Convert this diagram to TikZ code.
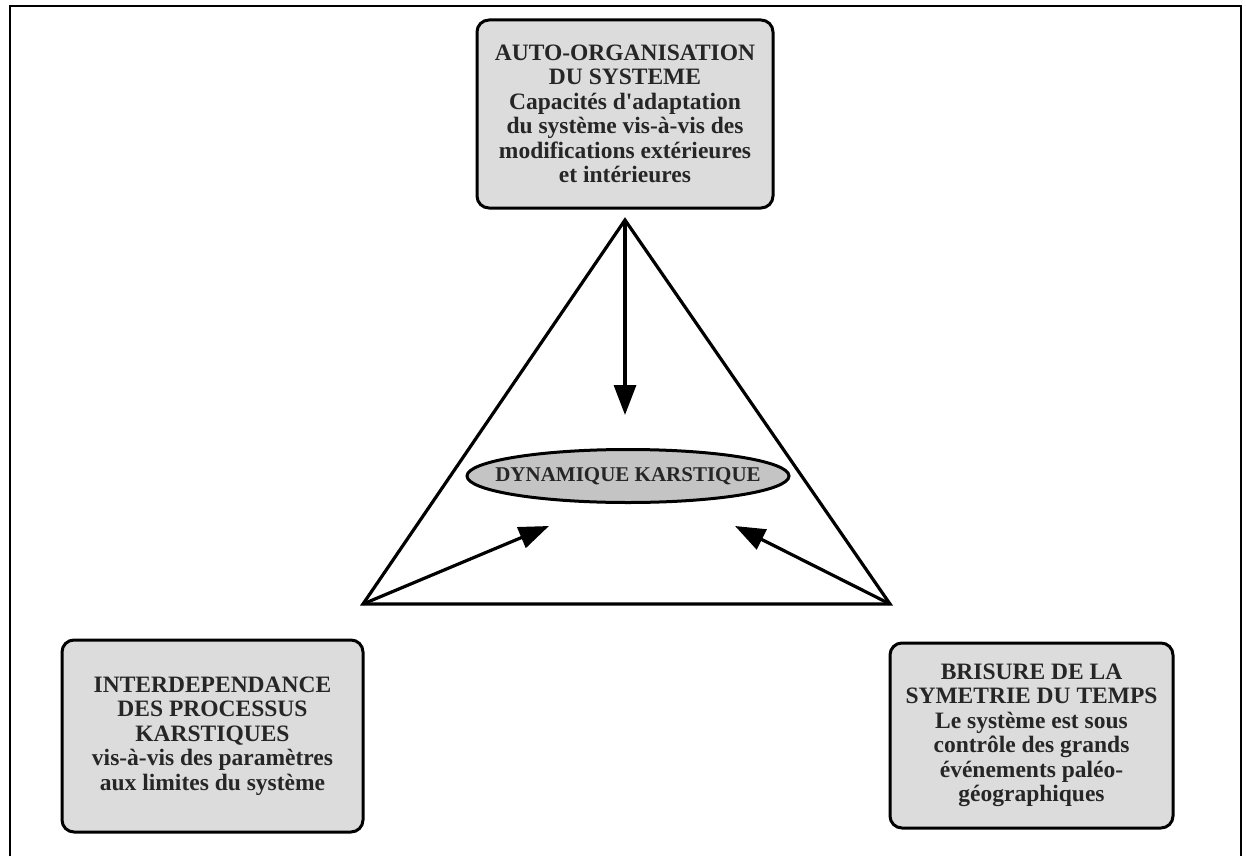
\documentclass[tikz,border=0pt]{standalone}
\usepackage{fontspec}
\setmainfont{Liberation Serif}
\usetikzlibrary{arrows.meta,shapes.geometric}
\definecolor{boxfill}{HTML}{DCDCDC}
\definecolor{ellfill}{HTML}{C4C4C4}
\definecolor{txt}{HTML}{262626}
\tikzset{
  infobox/.style={draw=black, line width=3pt, rounded corners=12pt, fill=boxfill,
    align=center, text=txt, font=\bfseries\fontsize{23.5}{24.5}\selectfont, inner sep=0pt},
  tri/.style={draw=black, line width=3.2pt, line join=miter},
  arr/.style={draw=black, line width=3.2pt, -{Triangle[length=30pt,width=22pt]}},
}
\begin{document}
\begin{tikzpicture}[x=1pt,y=-1pt]
\useasboundingbox (0,0) rectangle (1246,856);
% outer frame
\draw[line width=2pt] (10,856) -- (10,6) -- (1241,6) -- (1241,856);
% boxes
\node[infobox, minimum width=296pt, minimum height=188pt] (top) at (625,114)
  {AUTO-ORGANISATION\\DU SYSTEME\\Capacités d\textquotesingle adaptation\\du système vis-à-vis des\\modifications extérieures\\et intérieures};
\node[infobox, minimum width=301pt, minimum height=192pt] (left) at (212.5,736)
  {INTERDEPENDANCE\\DES PROCESSUS\\KARSTIQUES\\vis-à-vis des paramètres\\aux limites du système};
\node[infobox, minimum width=283pt, minimum height=185pt] (right) at (1031.5,735.5)
  {BRISURE DE LA\\SYMETRIE DU TEMPS\\Le système est sous\\contrôle des grands\\événements paléo-\\géographiques};
% ellipse
\node[ellipse, draw=black, line width=3pt, fill=ellfill, minimum width=322pt, minimum height=53pt,
  inner sep=0pt, text=txt, font=\bfseries\fontsize{21}{22}\selectfont] (dyn) at (628,476) {\makebox[0pt]{DYNAMIQUE KARSTIQUE}};
% triangle
\coordinate (apex) at (625,220);
\coordinate (bl) at (363,604);
\coordinate (br) at (890,604);
\draw[tri] (apex) -- (bl) -- (br) -- cycle;
% arrow ends
\coordinate (t1) at (625,415);
\coordinate (t2) at (549,526);
\coordinate (t3) at (735,526);
\draw[arr] (apex) -- (t1);
\draw[arr] (bl) -- (t2);
\draw[arr] (br) -- (t3);
\end{tikzpicture}
\end{document}
